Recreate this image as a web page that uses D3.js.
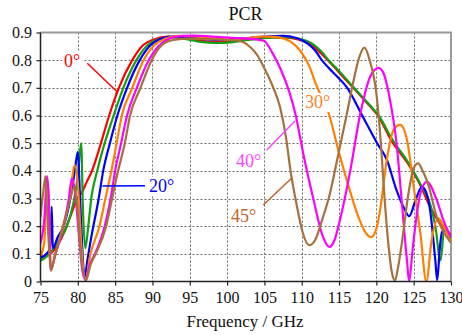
<!DOCTYPE html>
<html>
<head>
<meta charset="utf-8">
<script src="https://cdn.jsdelivr.net/npm/d3@7"></script>
<style>
  html, body { margin: 0; padding: 0; background: #fff; }
  svg { display: block; }
</style>
</head>
<body>
<svg id="chart" width="462" height="335" font-family="Liberation Serif, Times New Roman, serif"></svg>
<script>
// PCR versus frequency for several incidence angles: [GHz, PCR]
const pcr0 = [[75,0.09],[76,0.095],[77,0.12],[78.2,0.18],[79.2,0.25],[79.9,0.3],[80.5,0.32],[81.2,0.36],[81.9,0.40],[83.1,0.50],[84.2,0.60],[85.5,0.70],[87.3,0.80],[88.6,0.85],[90.2,0.875],[92,0.885],[94,0.882],[96,0.872],[98,0.866],[100,0.868],[102,0.874],[104,0.879],[106,0.882],[108,0.881],[109.5,0.875],[111,0.86],[112.3,0.832],[113.5,0.80],[115.2,0.75],[116.9,0.70],[119.2,0.632],[120.2,0.60],[122,0.51],[124.5,0.415],[125.9,0.348],[127.2,0.27],[128.5,0.21],[130,0.168]];
const pcr10 = [[75,0.075],[75.8,0.09],[76.5,0.11],[77.2,0.14],[78.5,0.197],[79.4,0.282],[80,0.38],[80.45,0.50],[80.7,0.25],[81.0,0.12],[81.4,0.2],[81.8,0.3],[82.6,0.40],[83.6,0.50],[84.8,0.60],[86.1,0.70],[87.85,0.80],[89.2,0.85],[90.8,0.875],[92.5,0.882],[94.5,0.876],[96.5,0.866],[98.5,0.862],[100.5,0.864],[102.5,0.872],[104.5,0.878],[106.5,0.882],[108.5,0.882],[110,0.875],[111.5,0.858],[112.6,0.832],[113.6,0.80],[115.3,0.752],[117,0.70],[119.2,0.635],[120.3,0.60],[122.1,0.515],[124.5,0.42],[125.9,0.352],[127.3,0.272],[127.9,0.2],[128.6,0.076],[129.1,0.19],[130,0.155]];
const pcr20 = [[75,0.085],[75.8,0.1],[76.3,0.12],[76.5,0.27],[76.65,0.12],[77.3,0.16],[78.1,0.2],[79,0.3],[79.6,0.4],[80.0,0.469],[80.3,0.3],[80.6,0.12],[80.9,0.016],[81.3,0.08],[81.8,0.16],[82.8,0.30],[83.4,0.40],[84.3,0.50],[85.3,0.60],[86.6,0.70],[88.3,0.80],[89.6,0.85],[91.2,0.878],[93,0.886],[95,0.882],[97,0.876],[99,0.874],[101,0.876],[103,0.88],[105,0.885],[107.5,0.888],[109.3,0.88],[110.8,0.86],[111.8,0.835],[112.7,0.80],[114.4,0.75],[116.1,0.70],[118.1,0.60],[120.1,0.50],[121.4,0.44],[122.7,0.33],[123.8,0.26],[124.4,0.236],[125.2,0.29],[126.1,0.342],[126.7,0.32],[127.2,0.258],[127.9,0.076],[128.15,0.005],[128.5,0.12],[128.8,0.18],[129.4,0.185],[130,0.16]];
const pcr30 = [[75,0.094],[75.5,0.14],[75.9,0.37],[76.1,0.3],[76.4,0.05],[77,0.1],[78,0.2],[78.9,0.3],[79.6,0.42],[80.0,0.35],[80.5,0.12],[81.0,0.005],[81.7,0.1],[82.9,0.2],[83.7,0.3],[84.5,0.40],[85.2,0.50],[85.9,0.60],[87.3,0.70],[88.8,0.80],[90.1,0.85],[91.8,0.878],[93.5,0.888],[95.5,0.886],[97.5,0.88],[100,0.876],[102.5,0.879],[104.5,0.885],[106.5,0.884],[107.6,0.878],[108.45,0.868],[109.8,0.834],[111.1,0.773],[111.8,0.72],[112.7,0.665],[113.6,0.609],[114.9,0.475],[116.3,0.342],[117.6,0.233],[118.6,0.175],[119.3,0.16],[120.0,0.19],[120.5,0.258],[121.4,0.44],[122.3,0.548],[123.2,0.566],[124.1,0.512],[125.0,0.342],[125.9,0.174],[126.7,0.0],[127.4,0.149],[128.3,0.228],[129,0.2],[130,0.14]];
const pcr40 = [[75,0.138],[75.5,0.22],[75.9,0.38],[76.1,0.3],[76.35,0.04],[77,0.1],[78.1,0.2],[78.8,0.3],[79.2,0.373],[79.6,0.33],[80.2,0.15],[80.6,0.04],[81.05,0.005],[81.6,0.06],[82.3,0.1],[83.6,0.2],[84.4,0.30],[85.0,0.40],[85.8,0.50],[86.6,0.60],[87.9,0.70],[89.5,0.80],[90.8,0.85],[92.3,0.878],[94,0.888],[95.5,0.889],[98,0.885],[101,0.88],[103,0.878],[104.9,0.87],[106.2,0.82],[107.3,0.76],[108.4,0.68],[109.2,0.6],[110.2,0.463],[111.6,0.294],[112.7,0.173],[113.7,0.125],[114.4,0.15],[115.1,0.22],[116.5,0.40],[117.8,0.6],[119.2,0.742],[120.3,0.772],[121.0,0.75],[121.8,0.66],[122.7,0.5],[123.4,0.29],[124.1,0.076],[124.4,0.0],[124.8,0.1],[125.2,0.197],[125.9,0.318],[126.75,0.36],[128.1,0.294],[129,0.22],[130,0.16]];
const pcr45 = [[75,0.233],[75.4,0.33],[75.67,0.38],[75.9,0.25],[76.15,0.12],[76.4,0.04],[77,0.1],[78.1,0.2],[79.0,0.3],[79.5,0.34],[79.9,0.28],[80.4,0.1],[81.1,0.005],[81.7,0.06],[82.4,0.1],[83.8,0.2],[84.6,0.3],[85.4,0.40],[86.3,0.50],[87.0,0.60],[88.4,0.70],[89.9,0.80],[91.1,0.85],[92.6,0.872],[94.5,0.878],[96.5,0.877],[99,0.875],[101,0.872],[102.2,0.865],[103.2,0.845],[104.0,0.82],[105.0,0.77],[106.2,0.70],[107.1,0.63],[107.9,0.52],[108.5,0.40],[109.3,0.28],[110.1,0.18],[111.0,0.131],[111.8,0.15],[112.7,0.22],[113.8,0.32],[114.9,0.46],[116.0,0.6],[116.9,0.72],[117.7,0.81],[118.4,0.845],[119.1,0.80],[120.0,0.68],[120.6,0.5],[121.1,0.30],[121.6,0.137],[122.1,0.03],[122.5,0.004],[122.9,0.05],[123.4,0.137],[124.3,0.318],[125.0,0.41],[125.6,0.427],[126.2,0.40],[126.9,0.355],[128.1,0.233],[129,0.18],[130,0.14]];

const seriesData = [pcr0, pcr10, pcr20, pcr30, pcr40, pcr45];
const seriesColors = ["#ff0000", "#12a012", "#0000ff", "#ff8000", "#ff00ff", "#a8703c"];

const xTicks = [75, 80, 85, 90, 95, 100, 105, 110, 115, 120, 125, 130];
const yTicks = [0, 0.1, 0.2, 0.3, 0.4, 0.5, 0.6, 0.7, 0.8, 0.9];
const yTickLabels = ["0", "0.1", "0.2", "0.3", "0.4", "0.5", "0.6", "0.7", "0.8", "0.9"];

// Angle annotations: text, anchor point on a curve [GHz, PCR], label colour
const angleLabels = ["0°", "20°", "30°", "40°", "45°"];
const angleColors = ["#ff0000", "#0000ff", "#ff7f27", "#ff44ff", "#c0622a"];
const angleTargets = [[85.3, 0.685], [83.3, 0.345], null, [109.1, 0.58], [108.7, 0.375]];

const SERIF = "Liberation Serif, Times New Roman, serif";
const svg = d3.select("#chart");
const plotL = 40.5, plotR = 451, plotT = 32.5, plotB = 281.5;

const x = d3.scaleLinear().domain([75, 130]).range([plotL, plotR]);
const y = d3.scaleLinear().domain([0, 0.9]).range([plotB, plotT]);

// dotted grid
const grid = svg.append("g").attr("stroke", "#6a6a6a").attr("stroke-width", 1).attr("stroke-dasharray", "2,2");
grid.selectAll("line.v").data(xTicks.slice(1, -1)).join("line").attr("class", "v")
  .attr("x1", d => Math.round(x(d)) + 0.5).attr("x2", d => Math.round(x(d)) + 0.5)
  .attr("y1", plotT).attr("y2", plotB);
grid.selectAll("line.h").data(yTicks.slice(1, -1)).join("line").attr("class", "h")
  .attr("x1", plotL).attr("x2", plotR)
  .attr("y1", d => Math.round(y(d)) + 0.5).attr("y2", d => Math.round(y(d)) + 0.5);

// frame top/right
svg.append("path")
  .attr("d", `M${plotL},${plotT}H${plotR}V${plotB}`)
  .attr("fill", "none").attr("stroke", "#9a9a9a").attr("stroke-width", 2);

// curves
const line = d3.line().x(d => x(d[0])).y(d => y(d[1])).curve(d3.curveMonotoneX);
svg.append("clipPath").attr("id", "plotclip").append("rect")
  .attr("x", plotL).attr("y", plotT - 4).attr("width", plotR - plotL).attr("height", plotB - plotT + 4);
svg.append("g").attr("clip-path", "url(#plotclip)")
  .selectAll("path").data(seriesData).join("path")
  .attr("d", line)
  .attr("fill", "none")
  .attr("stroke", (d, i) => seriesColors[i])
  .attr("stroke-width", 2.2)
  .attr("stroke-linejoin", "round");

// axes
const xAxis = d3.axisBottom(x).tickValues(xTicks).tickSize(4).tickPadding(6).tickFormat(d3.format("d"));
const yAxis = d3.axisLeft(y).tickValues(yTicks).tickSize(4).tickPadding(4.5).tickFormat((d, i) => yTickLabels[i]);

const gx = svg.append("g").attr("transform", `translate(0,${plotB})`).call(xAxis);
const gy = svg.append("g").attr("transform", `translate(${plotL},0)`).call(yAxis);
[gx, gy].forEach(g => {
  g.attr("font-family", SERIF).attr("font-size", 16);
  g.select(".domain").attr("stroke", "#222").attr("stroke-width", 1.5);
  g.selectAll(".tick line").attr("stroke", "#222").attr("stroke-width", 1.2);
  g.selectAll(".tick text").attr("fill", "#111");
});
gy.select(".domain").attr("d", `M0,${plotT}V${plotB}`);
gx.select(".domain").attr("d", `M${plotL},0H${plotR}`);

// titles
svg.append("text").attr("x", 245.5).attr("y", 20).attr("text-anchor", "middle")
  .attr("font-family", SERIF).attr("font-size", 18).attr("fill", "#111").text("PCR");
svg.append("text").attr("x", 245).attr("y", 327).attr("text-anchor", "middle")
  .attr("font-family", SERIF).attr("font-size", 17).attr("fill", "#111").text("Frequency / GHz");

// angle labels with white boxes and leader lines
const labelPos = [[64, 67], [149, 192], [305, 108], [236, 167], [231, 222]];
const leaderStart = [[87.3, 63.3], [145, 185.7], null, [266.7, 150], [263.3, 205]];
angleLabels.forEach((t, i) => {
  const g = svg.append("g");
  const txt = g.append("text").attr("x", labelPos[i][0]).attr("y", labelPos[i][1])
    .attr("font-family", SERIF).attr("font-size", 18).attr("fill", angleColors[i]).text(t);
  const bb = txt.node().getBBox();
  g.insert("rect", "text").attr("x", bb.x - 2).attr("y", bb.y + 1)
    .attr("width", bb.width + 4).attr("height", bb.height - 1).attr("fill", "#fff");
  if (angleTargets[i]) {
    g.append("line")
      .attr("x1", leaderStart[i][0]).attr("y1", leaderStart[i][1])
      .attr("x2", x(angleTargets[i][0])).attr("y2", y(angleTargets[i][1]))
      .attr("stroke", angleColors[i]).attr("stroke-width", 1.5);
  }
});
</script>
</body>
</html>
